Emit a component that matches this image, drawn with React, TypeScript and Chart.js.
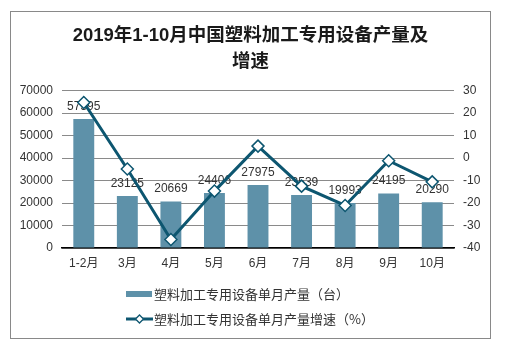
import React, { useEffect, useRef } from "react";
import { Chart, registerables } from "chart.js";

Chart.register(...registerables);

const categories = ["1-2月", "3月", "4月", "5月", "6月", "7月", "8月", "9月", "10月"];
const output = [57395, 23125, 20669, 24406, 27975, 23539, 19993, 24195, 20290];
const growth = [24.7, -4.9, -36.2, -14.7, 5.3, -12.5, -21.1, -1.2, -10.6];
const leftAxis = { min: 0, max: 70000, step: 10000 };
const rightAxis = { min: -40, max: 30, step: 10 };
const titleLines = ["2019年1-10月中国塑料加工专用设备产量及", "增速"];
const seriesNames = ["塑料加工专用设备单月产量（台）", "塑料加工专用设备单月产量增速（%）"];

const BAR_COLOR = "#5E91A9";
const LINE_COLOR = "#0D5670";
const TEXT_COLOR = "#333333";
const FONT = "'Liberation Sans', 'Noto Sans CJK SC', sans-serif";
const CJK_FONT = "'Noto Sans CJK SC', 'Liberation Sans', sans-serif";

const barLabelsPlugin = {
  id: "barLabels",
  afterDatasetDraw(chart: any, args: any) {
    if (args.index !== 0) return;
    const ctx = chart.ctx;
    const meta = chart.getDatasetMeta(0);
    ctx.save();
    ctx.font = `12px ${FONT}`;
    ctx.fillStyle = TEXT_COLOR;
    ctx.textAlign = "center";
    ctx.textBaseline = "middle";
    meta.data.forEach((el: any, i: number) => {
      ctx.fillText(String(output[i]), el.x, el.y - 12.5);
    });
    ctx.restore();
  },
};

const legendPlugin = {
  id: "customLegend",
  afterDraw(chart: any) {
    const ctx = chart.ctx;
    const x0 = 115;
    const row1 = 282;
    const row2 = 307;
    ctx.save();
    ctx.fillStyle = BAR_COLOR;
    ctx.fillRect(x0, row1 - 3, 26, 6);
    ctx.strokeStyle = LINE_COLOR;
    ctx.lineWidth = 3;
    ctx.beginPath();
    ctx.moveTo(x0, row2);
    ctx.lineTo(x0 + 27, row2);
    ctx.stroke();
    const cx = x0 + 13.5;
    const r = 4;
    ctx.fillStyle = "#fff";
    ctx.lineWidth = 1.3;
    ctx.beginPath();
    ctx.moveTo(cx - r, row2);
    ctx.lineTo(cx, row2 - r);
    ctx.lineTo(cx + r, row2);
    ctx.lineTo(cx, row2 + r);
    ctx.closePath();
    ctx.fill();
    ctx.stroke();
    ctx.font = `13px ${CJK_FONT}`;
    ctx.fillStyle = TEXT_COLOR;
    ctx.textAlign = "left";
    ctx.textBaseline = "middle";
    ctx.fillText(chart.data.datasets[0].label, x0 + 28, row1);
    ctx.fillText(chart.data.datasets[1].label, x0 + 28, row2);
    ctx.restore();
  },
};

export default function App() {
  const canvasRef = useRef<HTMLCanvasElement | null>(null);

  useEffect(() => {
    if (!canvasRef.current) return;
    const chart = new Chart(canvasRef.current, {
      type: "bar",
      data: {
        labels: categories,
        datasets: [
          {
            type: "bar",
            label: seriesNames[0],
            data: output,
            backgroundColor: BAR_COLOR,
            barPercentage: 0.48,
            categoryPercentage: 1,
            yAxisID: "y",
            order: 1,
          },
          {
            type: "line",
            label: seriesNames[1],
            data: growth,
            borderColor: LINE_COLOR,
            borderWidth: 3,
            pointStyle: "rectRot",
            pointRadius: 6,
            pointBackgroundColor: "#ffffff",
            pointBorderColor: LINE_COLOR,
            pointBorderWidth: 1.5,
            tension: 0,
            yAxisID: "y1",
            order: 0,
          },
        ],
      },
      options: {
        responsive: false,
        animation: false,
        events: [],
        layout: { padding: { left: 0, right: 0, top: 0, bottom: 60 } },
        plugins: {
          legend: { display: false },
          tooltip: { enabled: false },
          title: {
            display: true,
            text: titleLines,
            color: "#1a1a1a",
            font: { family: FONT, size: 18.5, weight: "bold", lineHeight: 1.42 },
            padding: { top: 11, bottom: 15 },
          },
        },
        scales: {
          x: {
            grid: { display: true, color: "rgba(0,0,0,0)", drawTicks: false },
            border: { display: true, color: "#000000", width: 1.5 },
            ticks: { color: TEXT_COLOR, font: { family: FONT, size: 12 }, padding: 8, maxRotation: 0 },
            afterFit: (s: any) => {
              s.height = 30;
            },
          },
          y: {
            position: "left",
            min: leftAxis.min,
            max: leftAxis.max,
            ticks: {
              stepSize: leftAxis.step,
              color: TEXT_COLOR,
              font: { family: FONT, size: 12 },
              padding: 9,
              callback: (v: any) => String(v),
            },
            grid: { color: "#8a8a8a", lineWidth: 1, drawTicks: false },
            border: { display: false },
            afterFit: (s: any) => {
              s.width = 51;
            },
          },
          y1: {
            position: "right",
            min: rightAxis.min,
            max: rightAxis.max,
            ticks: {
              stepSize: rightAxis.step,
              color: TEXT_COLOR,
              font: { family: FONT, size: 12 },
              padding: 9,
              callback: (v: any) => String(v),
            },
            grid: { display: false, drawTicks: false },
            border: { display: false },
            afterFit: (s: any) => {
              s.width = 36;
            },
          },
        },
      },
      plugins: [barLabelsPlugin, legendPlugin],
    } as any);
    return () => chart.destroy();
  }, []);

  return (
    <div
      style={{
        position: "absolute",
        left: 10,
        top: 11,
        width: 481,
        height: 328,
        border: "1px solid #898989",
        boxSizing: "border-box",
        background: "#fff",
      }}
    >
      <canvas ref={canvasRef} width={479} height={326} style={{ width: 479, height: 326, display: "block" }} />
    </div>
  );
}
